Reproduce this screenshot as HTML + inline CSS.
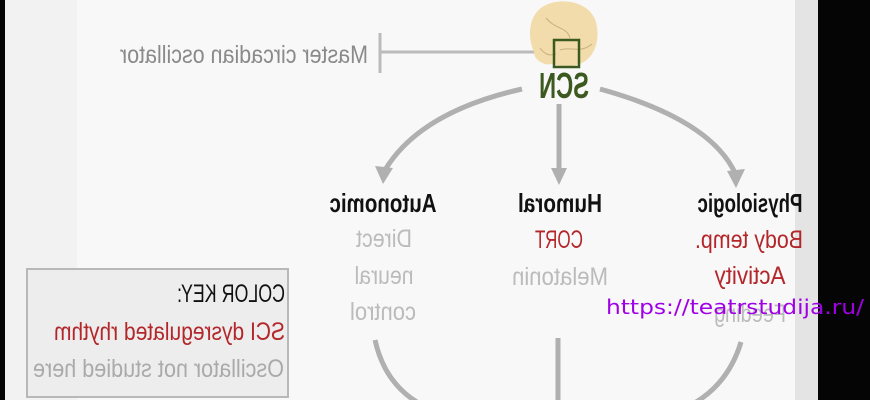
<!DOCTYPE html>
<html><head><meta charset="utf-8"><style>
html,body{margin:0;padding:0;width:870px;height:400px;overflow:hidden;background:#000}
svg{display:block}
text{font-family:"Liberation Sans",sans-serif}
</style></head><body>
<svg width="870" height="400" viewBox="0 0 870 400" xmlns="http://www.w3.org/2000/svg">
<rect x="0" y="0" width="870" height="400" fill="#050505"/>
<rect x="5" y="0" width="813" height="400" fill="#f2f2f2"/>
<rect x="77" y="0" width="718" height="400" fill="#f8f8f8"/>
<rect x="795" y="0" width="23" height="400" fill="#e4e4e4"/>
<!-- key box -->
<rect x="27" y="269" width="261" height="128" fill="#ededed" stroke="#b8b8b8" stroke-width="2"/>
<!-- master arrow -->
<line x1="380" y1="33" x2="380" y2="73" stroke="#bbb" stroke-width="3"/>
<line x1="380" y1="52" x2="540" y2="52" stroke="#bbb" stroke-width="3"/>
<polygon points="551,52 539,46 539,58" fill="#bbb"/>
<!-- brain -->
<path d="M534,52 C526,34 530,12 546,5 C563,-3 590,2 596,22 C601,42 593,60 579,64 C570,68 560,66 552,64 C544,66 534,60 534,52Z" fill="#f2dcab"/>
<path d="M546,18 C556,30 566,26 570,38 M560,50 C570,46 580,54 592,44 M540,48 C545,55 550,56 556,54" stroke="#c9ae7e" fill="none" stroke-width="1"/>
<rect x="554" y="40" width="25" height="27" fill="none" stroke="#3c5a1f" stroke-width="2.5"/>
<g transform="translate(564,98) scale(-1,1)"><text x="0" y="0" text-anchor="middle" font-size="36" font-weight="bold" fill="#3c5a1f" textLength="50" lengthAdjust="spacingAndGlyphs">SCN</text></g>
<g transform="translate(244,63) scale(-1,1)"><text x="0" y="0" text-anchor="middle" font-size="25" fill="#8a8a8a" textLength="248" lengthAdjust="spacingAndGlyphs">Master circadian oscillator</text></g>
<!-- arcs -->
<g stroke="#b0b0b0" stroke-width="5" fill="none">
<path d="M522,89 Q420,112 385,170"/>
<path d="M600,89 Q712,120 736,175"/>
<line x1="559" y1="104" x2="559" y2="172"/>
<path d="M375,340 Q385,385 422,405"/>
<line x1="558" y1="338" x2="558" y2="400"/>
<path d="M741,342 Q728,385 691,405"/>
</g>
<polygon points="383,184 375,166 393,168" fill="#b0b0b0"/>
<polygon points="559,185 551,168 567,168" fill="#b0b0b0"/>
<polygon points="736,188 727,171 745,169" fill="#b0b0b0"/>
<!-- headings -->
<g font-size="26" font-weight="bold" fill="#111">
<g transform="translate(383,212) scale(-1,1)"><text text-anchor="middle" textLength="107" lengthAdjust="spacingAndGlyphs">Autonomic</text></g>
<g transform="translate(560,212) scale(-1,1)"><text text-anchor="middle" textLength="84" lengthAdjust="spacingAndGlyphs">Humoral</text></g>
<g transform="translate(750,212) scale(-1,1)"><text text-anchor="middle" textLength="105" lengthAdjust="spacingAndGlyphs">Physiologic</text></g>
</g>
<g font-size="25">
<g transform="translate(384,247) scale(-1,1)"><text text-anchor="middle" fill="#bbb" textLength="56" lengthAdjust="spacingAndGlyphs">Direct</text></g>
<g transform="translate(384,284) scale(-1,1)"><text text-anchor="middle" fill="#bbb" textLength="59" lengthAdjust="spacingAndGlyphs">neural</text></g>
<g transform="translate(383,320) scale(-1,1)"><text text-anchor="middle" fill="#bbb" textLength="66" lengthAdjust="spacingAndGlyphs">control</text></g>
<g transform="translate(559,248) scale(-1,1)"><text text-anchor="middle" fill="#b3262a" textLength="48" lengthAdjust="spacingAndGlyphs">CORT</text></g>
<g transform="translate(560,285) scale(-1,1)"><text text-anchor="middle" fill="#bbb" textLength="96" lengthAdjust="spacingAndGlyphs">Melatonin</text></g>
<g transform="translate(749,248) scale(-1,1)"><text text-anchor="middle" fill="#b3262a" textLength="108" lengthAdjust="spacingAndGlyphs">Body temp.</text></g>
<g transform="translate(750,284) scale(-1,1)"><text text-anchor="middle" fill="#b3262a" textLength="71" lengthAdjust="spacingAndGlyphs">Activity</text></g>
<g transform="translate(750,322) scale(-1,1)"><text text-anchor="middle" fill="#bbb" textLength="72" lengthAdjust="spacingAndGlyphs">Feeding</text></g>
</g>
<!-- key text -->
<g font-size="25">
<g transform="translate(285,302) scale(-1,1)"><text text-anchor="start" fill="#111" textLength="108" lengthAdjust="spacingAndGlyphs">COLOR KEY:</text></g>
<g transform="translate(285,340) scale(-1,1)"><text text-anchor="start" fill="#b3262a" textLength="231" lengthAdjust="spacingAndGlyphs">SCI dysregulated rhythm</text></g>
<g transform="translate(284,377) scale(-1,1)"><text text-anchor="start" fill="#aaa" textLength="251" lengthAdjust="spacingAndGlyphs">Oscillator not studied here</text></g>
</g>
<text x="606" y="314" font-size="20" fill="#a000e6" textLength="258" lengthAdjust="spacingAndGlyphs" style="font-family:'DejaVu Sans',sans-serif">https://teatrstudija.ru/</text>
</svg>
</body></html>
